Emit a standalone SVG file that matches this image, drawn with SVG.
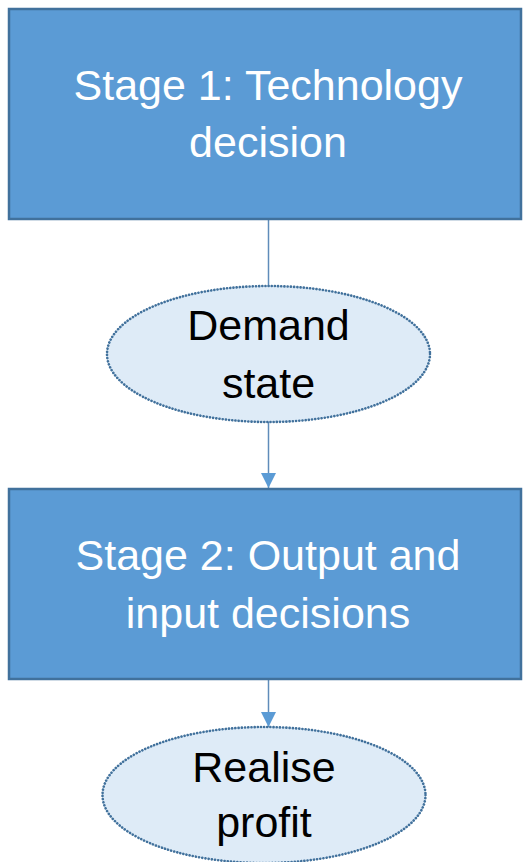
<svg xmlns="http://www.w3.org/2000/svg" width="523" height="862" viewBox="0 0 523 862">
  <style>
    .stage { fill: #5b9bd5; stroke: #41719c; stroke-width: 2.5; }
    .event { fill: #deebf7; stroke: #41719c; stroke-width: 2.6; stroke-dasharray: 0.1 3.1; stroke-linecap: round; }
    .label { font-family: "Liberation Sans", Arial, sans-serif; font-size: 43px; text-anchor: middle; }
    .light { fill: #ffffff; }
    .dark { fill: #000000; }
    .link { stroke: #5f8cba; stroke-width: 1.5; fill: none; }
  </style>
  <defs>
    <marker id="tri" viewBox="0 0 10 10" refX="10" refY="5" markerUnits="userSpaceOnUse" markerWidth="15" markerHeight="15" orient="auto">
      <path d="M0,0 L10,5 L0,10 Z" fill="#5b9bd5"/>
    </marker>
  </defs>

  <rect width="523" height="862" fill="#ffffff"/>

  <g id="connectors">
    <line class="link" x1="268.5" y1="220" x2="268.5" y2="286"/>
    <line class="link" x1="268.5" y1="422" x2="268.5" y2="488" marker-end="url(#tri)"/>
    <line class="link" x1="268.5" y1="680" x2="268.5" y2="727" marker-end="url(#tri)"/>
  </g>

  <g id="stage1">
    <rect class="stage" x="9" y="9" width="512" height="210"/>
    <text class="label light" x="268" y="100">Stage 1: Technology</text>
    <text class="label light" x="268" y="157">decision</text>
  </g>

  <g id="demand">
    <ellipse class="event" cx="268.5" cy="354" rx="161.5" ry="68"/>
    <text class="label dark" x="268.5" y="340">Demand</text>
    <text class="label dark" x="268.5" y="398">state</text>
  </g>

  <g id="stage2">
    <rect class="stage" x="9" y="489" width="512" height="190"/>
    <text class="label light" x="268" y="570">Stage 2: Output and</text>
    <text class="label light" x="268" y="628">input decisions</text>
  </g>

  <g id="profit">
    <ellipse class="event" cx="264" cy="795" rx="161.5" ry="68"/>
    <text class="label dark" x="264" y="782">Realise</text>
    <text class="label dark" x="264" y="837">profit</text>
  </g>
</svg>
